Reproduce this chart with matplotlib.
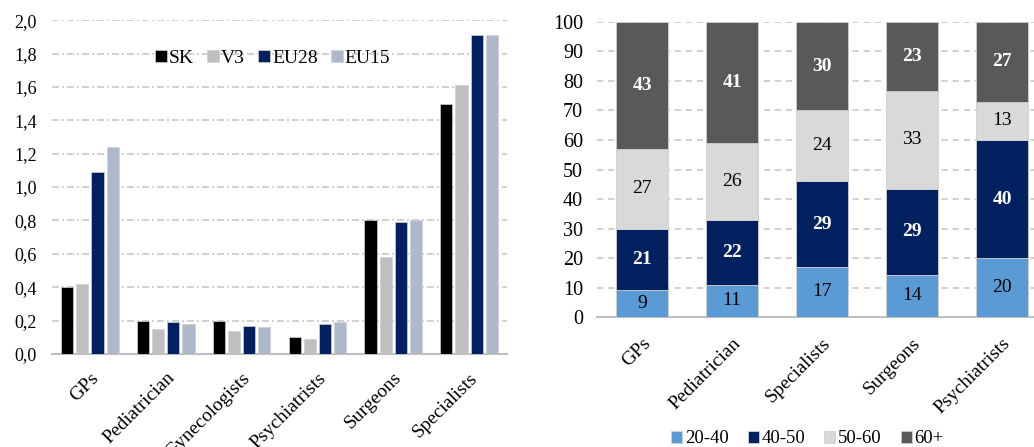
import matplotlib

matplotlib.use("Agg")
import matplotlib.pyplot as plt
import numpy as np

plt.rcParams["font.family"] = ["Liberation Serif", "DejaVu Serif"]
plt.rcParams["lines.scale_dashes"] = False

# left chart: doctors per 1000 inhabitants
left_cats = ["GPs", "Pediatrician", "Gynecologists", "Psychiatrists", "Surgeons", "Specialists"]
left_series = ["SK", "V3", "EU28", "EU15"]
sk = [0.40, 0.20, 0.20, 0.10, 0.80, 1.50]
v3 = [0.42, 0.15, 0.14, 0.09, 0.58, 1.61]
eu28 = [1.09, 0.19, 0.17, 0.18, 0.79, 1.91]
eu15 = [1.24, 0.18, 0.16, 0.19, 0.80, 1.91]
left_colors = ["#000000", "#BFBFBF", "#002060", "#ADB9CA"]
left_ticks = [0.0, 0.2, 0.4, 0.6, 0.8, 1.0, 1.2, 1.4, 1.6, 1.8, 2.0]

# right chart: age structure (%)
right_cats = ["GPs", "Pediatrician", "Specialists", "Surgeons", "Psychiatrists"]
age_groups = ["20-40", "40-50", "50-60", "60+"]
age_20_40 = [9, 11, 17, 14.4, 20]
age_40_50 = [21, 22, 29, 29.1, 40]
age_50_60 = [27, 26, 24, 33.2, 13]
age_60 = [43, 41, 30, 23.3, 27]
right_colors = ["#5B9BD5", "#002060", "#D9D9D9", "#595959"]
label_colors = ["black", "white", "black", "white"]
label_weights = ["normal", "bold", "normal", "bold"]

fig = plt.figure(figsize=(10.34, 4.47), dpi=100)

# ---- left grouped bars
ax1 = fig.add_axes([0.0503, 0.208, 0.44, 0.747])
x = np.arange(len(left_cats))
step, width = 0.2, 0.16
for i, (name, vals) in enumerate(zip(left_series, [sk, v3, eu28, eu15])):
    ax1.bar(x + (i - 1.5) * step, vals, width, color=left_colors[i], label=name,
            edgecolor="#D0D0D0", linewidth=0.5, zorder=3)
ax1.set_xlim(-0.5, len(left_cats) - 0.5)
ax1.set_ylim(0, 2.0)
ax1.set_yticks(left_ticks)
ax1.set_yticklabels([f"{t:.1f}".replace(".", ",") for t in left_ticks], fontsize=13)
ax1.tick_params(axis="y", length=0, pad=11)
ax1.set_xticks(x)
ax1.set_xticklabels(left_cats, rotation=45, ha="right", rotation_mode="anchor", fontsize=14)
ax1.tick_params(axis="x", length=0, pad=11)
ax1.yaxis.grid(True, color="#D0D0D0", linewidth=1.4, linestyle=(0, (5, 2.2, 1.4, 2.2)), zorder=0)
for s in ["top", "right", "left"]:
    ax1.spines[s].set_visible(False)
ax1.spines["bottom"].set_color("#BFBFBF")
ax1.spines["bottom"].set_linewidth(1.5)
ax1.legend(ncol=4, loc="center", bbox_to_anchor=(0.485, 0.886), frameon=False, fontsize=14,
           handlelength=0.6, handleheight=0.6, handletextpad=0.1, columnspacing=0.7)

# ---- right stacked bars
ax2 = fig.add_axes([0.5774, 0.2908, 0.4352, 0.66])
xr = np.arange(len(right_cats))
bottom = np.zeros(len(right_cats))
for i, (name, vals) in enumerate(zip(age_groups, [age_20_40, age_40_50, age_50_60, age_60])):
    vals = np.array(vals, dtype=float)
    ax2.bar(xr, vals, 0.57, bottom=bottom, color=right_colors[i], label=name,
            edgecolor="#D0D0D0", linewidth=0.6, zorder=3)
    for xi, b, v in zip(xr, bottom, vals):
        ax2.text(xi, b + v / 2, f"{v:.0f}", ha="center", va="center", fontsize=14,
                 color=label_colors[i], fontweight=label_weights[i], zorder=4)
    bottom += vals
ax2.set_xlim(-0.5, len(right_cats) - 0.5)
ax2.set_ylim(0, 100)
ax2.set_yticks(range(0, 101, 10))
ax2.tick_params(axis="y", labelsize=14.5, length=0, pad=10)
ax2.set_xticks(xr)
ax2.set_xticklabels(right_cats, rotation=45, ha="right", rotation_mode="anchor", fontsize=14)
ax2.tick_params(axis="x", length=0, pad=13)
ax2.yaxis.grid(True, color="#D0D0D0", linewidth=1.4, linestyle=(0, (4.5, 3.5)), zorder=0)
for s in ["top", "right", "left"]:
    ax2.spines[s].set_visible(False)
ax2.spines["bottom"].set_color("#BFBFBF")
ax2.spines["bottom"].set_linewidth(1.5)
handles, labels = ax2.get_legend_handles_labels()
fig.legend(handles, labels, ncol=4, loc="center", bbox_to_anchor=(0.781, 0.018), frameon=False,
           fontsize=13.5, handlelength=0.6, handleheight=0.6, handletextpad=0.15, columnspacing=1.0)

fig.savefig("out.png", dpi=100)
